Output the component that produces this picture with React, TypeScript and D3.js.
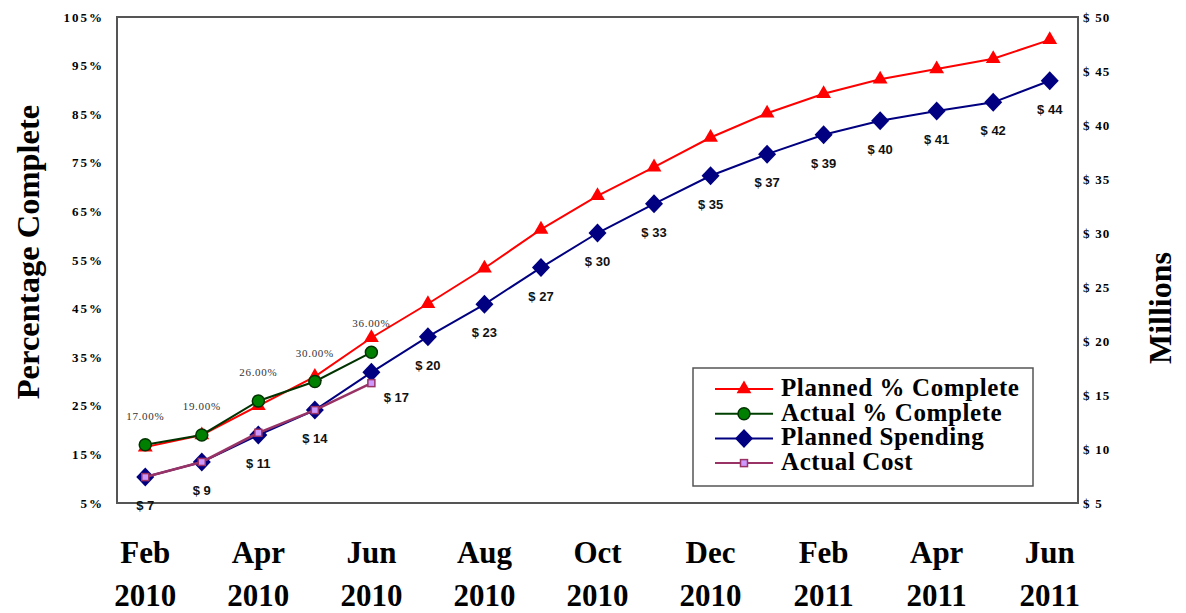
import { useEffect, useRef } from "react";
import * as d3 from "d3";

const months = [
  "Feb 2010", "Mar 2010", "Apr 2010", "May 2010", "Jun 2010", "Jul 2010", "Aug 2010", "Sep 2010",
  "Oct 2010", "Nov 2010", "Dec 2010", "Jan 2011", "Feb 2011", "Mar 2011", "Apr 2011", "May 2011", "Jun 2011",
];
const plannedPct = [16.5, 19, 25, 31, 39, 46, 53.3, 61.3, 68.2, 74.1, 80.2, 85.2, 89.2, 92.2, 94.3, 96.4, 100.3];
const actualPct = [17, 19, 26, 30, 36];
const plannedSpend = [7.4, 8.8, 11.3, 13.6, 17.1, 20.4, 23.4, 26.8, 30.0, 32.7, 35.3, 37.3, 39.1, 40.4, 41.3, 42.1, 44.1];
const actualCost = [7.4, 8.8, 11.5, 13.6, 16.1];
const pctTicks = [5, 15, 25, 35, 45, 55, 65, 75, 85, 95, 105];
const usdTicks = [5, 10, 15, 20, 25, 30, 35, 40, 45, 50];
const legendItems = ["Planned % Complete", "Actual % Complete", "Planned Spending", "Actual Cost"];

const SERIF = "'Liberation Serif', 'Times New Roman', serif";
const SANS = "'Liberation Sans', Arial, sans-serif";

const App = () => {
  const ref = useRef<SVGSVGElement | null>(null);

  useEffect(() => {
    document.body.style.margin = "0";
    drawChart();
  }, []);

  const drawChart = () => {
    const svg = d3.select(ref.current);
    svg.selectAll("*").remove();

    const plot = { left: 117, right: 1078, top: 17, bottom: 503 };

    const x = d3.scalePoint<string>().domain(months).range([plot.left, plot.right]).padding(0.5);
    const yPct = d3.scaleLinear().domain([5, 105]).range([plot.bottom, plot.top]);
    const yUsd = d3.scaleLinear().domain([5, 50]).range([plot.bottom, plot.top]);

    // frame
    svg
      .append("rect")
      .attr("x", plot.left)
      .attr("y", plot.top)
      .attr("width", plot.right - plot.left)
      .attr("height", plot.bottom - plot.top)
      .attr("fill", "none")
      .attr("stroke", "#555")
      .attr("stroke-width", 2);

    // left axis labels
    svg
      .append("g")
      .selectAll("text")
      .data(pctTicks)
      .join("text")
      .attr("x", 104)
      .attr("y", (d) => yPct(d))
      .attr("dy", "0.35em")
      .attr("text-anchor", "end")
      .attr("font-family", SERIF)
      .attr("font-weight", "bold")
      .attr("font-size", 13)
      .attr("letter-spacing", 2)
      .text((d) => `${d}%`);

    // right axis labels
    svg
      .append("g")
      .selectAll("text")
      .data(usdTicks)
      .join("text")
      .attr("x", 1083)
      .attr("y", (d) => yUsd(d))
      .attr("dy", "0.35em")
      .attr("font-family", SERIF)
      .attr("font-weight", "bold")
      .attr("font-size", 13)
      .attr("letter-spacing", 1.2)
      .text((d) => `$ ${d}`);

    // axis titles
    svg
      .append("text")
      .attr("transform", "translate(28,252) rotate(-90)")
      .attr("text-anchor", "middle")
      .attr("dominant-baseline", "central")
      .attr("font-family", SERIF)
      .attr("font-weight", "bold")
      .attr("font-size", 32.5)
      .text("Percentage Complete");

    svg
      .append("text")
      .attr("transform", "translate(1160,308) rotate(-90)")
      .attr("text-anchor", "middle")
      .attr("dominant-baseline", "central")
      .attr("font-family", SERIF)
      .attr("font-weight", "bold")
      .attr("font-size", 32)
      .text("Millions");

    // x labels, every other month
    const xl = svg
      .append("g")
      .selectAll("g")
      .data(months.filter((_, i) => i % 2 === 0))
      .join("g")
      .attr("transform", (d) => `translate(${x(d)},0)`)
      .attr("font-family", SERIF)
      .attr("font-weight", "bold")
      .attr("font-size", 31)
      .attr("text-anchor", "middle");
    xl.append("text").attr("y", 563).text((d) => d.split(" ")[0]);
    xl.append("text").attr("y", 606).text((d) => d.split(" ")[1]);

    const line = (yScale: d3.ScaleLinear<number, number>) =>
      d3
        .line<number>()
        .x((_, i) => x(months[i]) as number)
        .y((d) => yScale(d));

    const triangle = d3.symbol().type(d3.symbolTriangle).size(95)();
    const diamond = "M0,-9.5L9,0L0,9.5L-9,0Z";

    // planned %
    svg
      .append("path")
      .attr("d", line(yPct)(plannedPct))
      .attr("fill", "none")
      .attr("stroke", "#ff0000")
      .attr("stroke-width", 2);
    svg
      .append("g")
      .selectAll("path")
      .data(plannedPct)
      .join("path")
      .attr("transform", (d, i) => `translate(${x(months[i])},${yPct(d)})`)
      .attr("d", triangle)
      .attr("fill", "#ff0000");

    // planned spending
    svg
      .append("path")
      .attr("d", line(yUsd)(plannedSpend))
      .attr("fill", "none")
      .attr("stroke", "#000080")
      .attr("stroke-width", 2);
    svg
      .append("g")
      .selectAll("path")
      .data(plannedSpend)
      .join("path")
      .attr("transform", (d, i) => `translate(${x(months[i])},${yUsd(d)})`)
      .attr("d", diamond)
      .attr("fill", "#000080");

    // actual %
    svg
      .append("path")
      .attr("d", line(yPct)(actualPct))
      .attr("fill", "none")
      .attr("stroke", "#003300")
      .attr("stroke-width", 2);
    svg
      .append("g")
      .selectAll("circle")
      .data(actualPct)
      .join("circle")
      .attr("cx", (_, i) => x(months[i]) as number)
      .attr("cy", (d) => yPct(d))
      .attr("r", 6)
      .attr("fill", "#008000")
      .attr("stroke", "#003300")
      .attr("stroke-width", 1.5);

    // actual cost
    svg
      .append("path")
      .attr("d", line(yUsd)(actualCost))
      .attr("fill", "none")
      .attr("stroke", "#993366")
      .attr("stroke-width", 2.5);
    svg
      .append("g")
      .selectAll("rect")
      .data(actualCost)
      .join("rect")
      .attr("x", (_, i) => (x(months[i]) as number) - 3.5)
      .attr("y", (d) => yUsd(d) - 3.5)
      .attr("width", 7)
      .attr("height", 7)
      .attr("fill", "#cc99ff")
      .attr("stroke", "#993366")
      .attr("stroke-width", 1.5);

    // % labels
    svg
      .append("g")
      .selectAll("text")
      .data(actualPct)
      .join("text")
      .attr("x", (_, i) => x(months[i]) as number)
      .attr("y", (d) => yPct(d) - 25)
      .attr("text-anchor", "middle")
      .attr("font-family", SERIF)
      .attr("font-size", 11)
      .attr("letter-spacing", 0.7)
      .attr("fill", "#333")
      .text((d) => `${d.toFixed(2)}%`);

    // $ labels (Jun 2010 pushed right of the actual cost marker)
    svg
      .append("g")
      .selectAll("text")
      .data(plannedSpend)
      .join("text")
      .attr("x", (_, i) => (x(months[i]) as number) + (i === 4 ? 25 : 0))
      .attr("y", (d, i) => yUsd(d) + (i === 4 ? 30 : 33))
      .attr("text-anchor", "middle")
      .attr("font-family", SANS)
      .attr("font-weight", "bold")
      .attr("font-size", 13)
      .attr("fill", "#111")
      .text((d) => `$ ${Math.round(d)}`);

    // legend
    const lg = svg.append("g");
    lg.append("rect")
      .attr("x", 693)
      .attr("y", 368)
      .attr("width", 340)
      .attr("height", 118)
      .attr("fill", "#fff")
      .attr("stroke", "#555")
      .attr("stroke-width", 1.5);

    const rows = lg
      .selectAll("g")
      .data(legendItems)
      .join("g")
      .attr("transform", (_, i) => `translate(0,${389 + i * 24.7})`);
    const colors = ["#ff0000", "#004000", "#000080", "#993366"];
    rows
      .append("line")
      .attr("x1", 715)
      .attr("x2", 773)
      .attr("stroke", (_, i) => colors[i])
      .attr("stroke-width", 2);
    rows
      .append("text")
      .attr("x", 781)
      .attr("y", 7)
      .attr("font-family", SERIF)
      .attr("font-weight", "bold")
      .attr("font-size", 25)
      .attr("letter-spacing", 0.6)
      .text((d) => d);

    const mx = 744;
    lg.append("path").attr("transform", `translate(${mx},389)`).attr("d", triangle).attr("fill", "#ff0000");
    lg.append("circle")
      .attr("cx", mx)
      .attr("cy", 389 + 24.7)
      .attr("r", 6)
      .attr("fill", "#008000")
      .attr("stroke", "#003300")
      .attr("stroke-width", 1.5);
    lg.append("path").attr("transform", `translate(${mx},${389 + 2 * 24.7})`).attr("d", diamond).attr("fill", "#000080");
    lg.append("rect")
      .attr("x", mx - 3.5)
      .attr("y", 389 + 3 * 24.7 - 3.5)
      .attr("width", 7)
      .attr("height", 7)
      .attr("fill", "#cc99ff")
      .attr("stroke", "#993366")
      .attr("stroke-width", 1.5);
  };

  return <svg ref={ref} width={1186} height={613} style={{ display: "block", background: "#fff" }} />;
};

export default App;
